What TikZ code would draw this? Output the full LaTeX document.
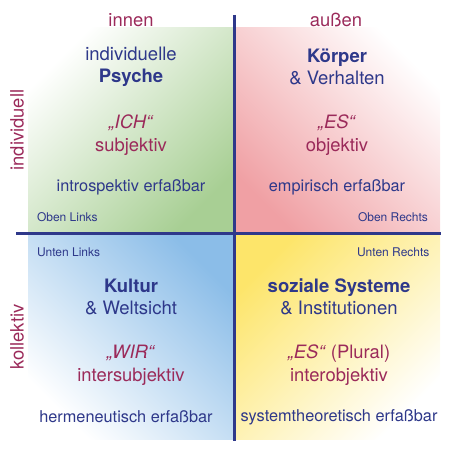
\documentclass[tikz,border=0pt]{standalone}
\usepackage{fontspec}
\setmainfont{TeX Gyre Heros}
\usepackage{xcolor}
\definecolor{navy}{RGB}{46,56,138}
\definecolor{wine}{RGB}{155,42,90}
\definecolor{quadgreen}{RGB}{168,207,148}
\definecolor{quadpink}{RGB}{240,160,164}
\definecolor{quadblue}{RGB}{139,189,232}
\definecolor{quadyellow}{RGB}{253,229,106}

\begin{document}
\begin{tikzpicture}[x=1pt, y=1pt,
  axisline/.style={line width=3pt, navy},
  title/.style={font=\fontsize{18.5}{22}\selectfont, text=navy, align=center},
  ego/.style={font=\fontsize{18.4}{23}\selectfont, text=wine, align=center},
  method/.style={font=\fontsize{16.3}{20}\selectfont, text=navy},
  corner/.style={font=\fontsize{12}{14}\selectfont, text=navy},
  axislabel/.style={font=\fontsize{18.4}{22}\selectfont, text=wine}
]
\useasboundingbox (0,0) rectangle (461,461);

% quadrants
\shade[bottom color=quadgreen, top color=white, shading angle=45]
  (28,227) rectangle (234,433);
\shade[bottom color=quadpink, top color=white, shading angle=-45]
  (234,227) rectangle (440,433);
\shade[bottom color=white, top color=quadblue, shading angle=-45]
  (28,21) rectangle (234,227);
\shade[bottom color=white, top color=quadyellow, shading angle=45]
  (234,21) rectangle (440,227);

% axes
\coordinate (top) at (234,446);
\coordinate (bottom) at (234,20);
\coordinate (left) at (16,227.5);
\coordinate (right) at (441,227.5);
\draw[axisline] (top) -- (bottom);
\draw[axisline] (left) -- (right);

\node[axislabel] (innen) at (131,441) {innen};
\node[axislabel] (aussen) at (336,441) {außen};
\node[axislabel, rotate=90] (indiv) at (17,331) {individuell};
\node[axislabel, rotate=90] (koll) at (17,124) {kollektiv};

% oben links
\node[title] (psyche) at (131,394) {individuelle\\\textbf{Psyche}};
\node[ego] (ich) at (131,326) {\textit{„ICH“}\\subjektiv};
\node[method] (intro) at (131,274) {introspektiv erfaßbar};
\node[corner, anchor=west] (ol) at (33.5,244) {Oben Links};

% oben rechts
\node[title] (koerper) at (337,394) {\textbf{Körper}\\\& Verhalten};
\node[ego] (esr) at (337,326) {\textit{„ES“}\\objektiv};
\node[method] (empir) at (337,274) {empirisch erfaßbar};
\node[corner, anchor=east] (or) at (431.5,244) {Oben Rechts};

% unten links
\node[corner, anchor=west] (ul) at (33.5,209) {Unten Links};
\node[title] (kultur) at (131,164) {\textbf{Kultur}\\\& Weltsicht};
\node[ego] (wir) at (131,96) {\textit{„WIR“}\\intersubjektiv};
\node[method] (herm) at (126,44) {hermeneutisch erfaßbar};

% unten rechts
\node[corner, anchor=east] (ur) at (433,209) {Unten Rechts};
\node[title] (systeme) at (339,164) {\textbf{soziale Systeme}\\\& Institutionen};
\node[ego] (esp) at (339,96) {\textit{„ES“} (Plural)\\interobjektiv};
\node[method] (systh) at (339,44) {systemtheoretisch erfaßbar};
\end{tikzpicture}
\end{document}
